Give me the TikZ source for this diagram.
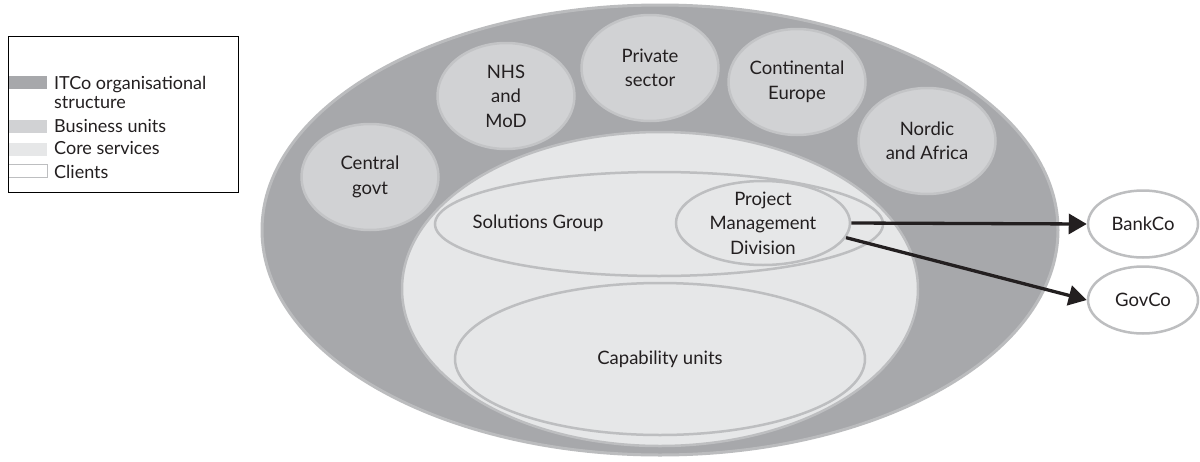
\documentclass[tikz,border=0pt]{standalone}
\usepackage{fontspec}
\setmainfont{Lato}
\usetikzlibrary{shapes.geometric,arrows.meta}
\definecolor{darkg}{HTML}{A7A8AB}
\definecolor{darkgline}{HTML}{BBBCBE}
\definecolor{midg}{HTML}{D1D2D4}
\definecolor{midgline}{HTML}{C3C4C6}
\definecolor{lightg}{HTML}{E6E7E8}
\definecolor{ovline}{HTML}{BDBEC0}
\definecolor{ink}{HTML}{231F20}
\begin{document}
\begin{tikzpicture}[x=1pt,y=-1pt,
  every node/.style={font=\fontsize{18.5}{24.5}\selectfont, text=ink},
  txt/.style={align=center, inner sep=0pt},
  orgshape/.style={ellipse, draw=darkgline, line width=3pt, fill=darkg, inner sep=0pt},
  bunit/.style={ellipse, draw=midgline, line width=2.5pt, fill=midg, inner sep=0pt, minimum width=137pt, minimum height=106pt},
  coreshape/.style={ellipse, draw=ovline, line width=2.5pt, fill=lightg, inner sep=0pt},
  subunit/.style={ellipse, draw=ovline, line width=2.5pt, fill=lightg, inner sep=0pt},
  client/.style={ellipse, draw=ovline, line width=2.5pt, fill=white, inner sep=0pt, minimum width=110pt, minimum height=67pt},
  flow/.style={line width=3.3pt, draw=ink, -{Triangle[length=18pt,width=20pt]}},
  swatch/.style={rectangle, inner sep=0pt, minimum width=39pt, minimum height=13pt},
  legtext/.style={anchor=base west, inner sep=0pt, font=\fontsize{18}{24.5}\selectfont}
]
\useasboundingbox (0,0) rectangle (1200,461);
\fill[white] (0,0) rectangle (1200,461);

% organisational structure
\node[orgshape, minimum width=796pt, minimum height=450pt] (org) at (660,230) {};

% business units
\node[bunit, label={[txt]center:Central\\govt}] (cg) at (370,177) {};
\node[bunit, label={[txt]center:NHS\\and\\MoD}] (nhs) at (506,96) {};
\node[bunit, label={[txt]center:Private\\sector}] (priv) at (650,68) {};
\node[bunit, label={[txt]center:Continental\\Europe}] (ce) at (797,82) {};
\node[bunit, label={[txt]center:Nordic\\and Africa}] (na) at (927,141) {};

% core services
\node[coreshape, minimum width=516pt, minimum height=314pt] (core) at (660,289) {};
\node[subunit, minimum width=448pt, minimum height=104pt] (sol) at (659,224) {};
\node[txt] (soltext) at (538,223) {Solutions Group};
\node[subunit, minimum width=174pt, minimum height=84pt, label={[txt]center:Project\\Management\\Division}] (pmd) at (763,223) {};
\node[subunit, minimum width=410pt, minimum height=152pt, label={[txt]center:Capability units}] (cap) at (660,359) {};

% clients
\node[client, label={[txt]center:BankCo}] (bank) at (1143,224) {};
\node[client, label={[txt]center:GovCo}] (gov) at (1143,300) {};

% connectors
\draw[flow] (pmd.east) -- (bank.west);
\draw[flow] (pmd.-10.4) -- (gov.west);

% legend
\node[swatch, fill=darkg] (sw1) at (27.5,82.5) {};
\node[swatch, fill=midg] (sw2) at (27.5,126) {};
\node[swatch, fill=lightg] (sw3) at (27.5,149) {};
\node[swatch, fill=white, draw=ovline, line width=1pt] (sw4) at (27.5,171) {};
\node[draw=black, line width=1.2pt, fill=none, minimum width=230pt, minimum height=156pt, inner sep=0pt, anchor=north west] (legend) at (8,36) {};
\node[legtext] (l1) at (54,89) {ITCo organisational};
\node[legtext] (l1b) at (54,108) {structure};
\node[legtext] (l2) at (54,132) {Business units};
\node[legtext] (l3) at (54,154) {Core services};
\node[legtext] (l4) at (54,178) {Clients};
\end{tikzpicture}
\end{document}
